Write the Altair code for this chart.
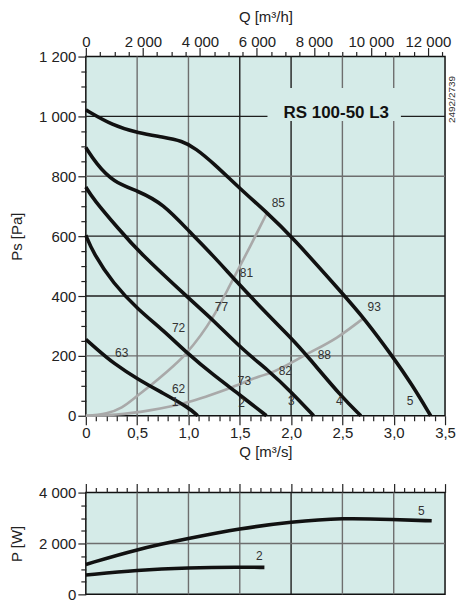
import altair as alt
import pandas as pd

# ---------------- data ----------------
# fan curves: Q [m3/s] -> Ps [Pa]
C1_Q = [0, 0.1, 0.265, 0.515, 0.75, 1.0, 1.09]
C1_P = [255, 225, 176, 120, 76, 28, 0]
C2_Q = [0, 0.07, 0.265, 0.515, 0.75, 1.0, 1.24, 1.5, 1.76]
C2_P = [603, 545, 442, 353, 287, 205, 137, 70, 0]
C3_Q = [0, 0.07, 0.33, 0.515, 1.01, 1.24, 1.53, 1.79, 2.0, 2.22]
C3_P = [764, 725, 620, 548, 390, 320, 220, 148, 80, 0]
C4_Q = [0, 0.1, 0.265, 0.515, 0.75, 1.01, 1.24, 1.45, 1.79, 2.0, 2.15, 2.5, 2.68]
C4_P = [896, 843, 781, 750, 709, 615, 535, 455, 331, 260, 203, 60, 0]
C5_Q = [0, 0.26, 0.515, 0.75, 0.94, 1.07, 1.24, 1.51, 1.757, 2.0, 2.52, 2.71, 2.99, 3.18, 3.36]
C5_P = [1022, 970, 944, 931, 918, 893, 845, 756, 681, 601, 401, 326, 198, 103, 0]

# system (efficiency) curves, grey
GA_Q = [0, 0.2, 0.35, 0.515, 0.75, 0.98, 1.24, 1.43, 1.6, 1.77]
GA_P = [0, 8, 28, 70, 135, 209, 331, 453, 565, 681]
GB_Q = [0, 0.3, 0.62, 0.82, 1.0, 1.4, 1.69, 1.79, 2.15, 2.45, 2.71]
GB_P = [0, 4, 18, 31, 46, 92, 131, 142, 205, 262, 327]

# labels on the pressure chart
LBL_TEXT = ["85", "81", "77", "72", "63", "62", "73", "82", "88", "93", "1", "2", "3", "4", "5"]
LBL_Q = [1.876, 1.565, 1.322, 0.904, 0.35, 0.904, 1.546, 1.944, 2.324, 2.81, 0.87, 1.517, 2.003, 2.47, 3.16]
LBL_P = [710, 477, 363, 293, 210, 88, 117, 150, 203, 363, 46, 43, 50, 50, 50]

# power curves: Q [m3/s] -> P [W]
P5_Q = [0, 0.5, 1.0, 1.5, 2.0, 2.5, 3.0, 3.37]
P5_W = [1176, 1777, 2196, 2588, 2850, 3007, 2941, 2890]
P2_Q = [0, 0.5, 1.0, 1.5, 1.74]
P2_W = [758, 954, 1046, 1072, 1059]
PL_TEXT = ["5", "2"]
PL_Q = [3.27, 1.69]
PL_W = [3282, 1518]

TITLE = "RS 100-50 L3"
TITLE_Q, TITLE_P = 2.44, 1010
TITLE_BOX = (1.77, 3.07, 985, 1095)
CODE = "2492/2739"

# grid
GRID_XQ = [0.5, 1.0, 1.5, 2.0, 2.5, 3.0]
GRID_XC = ["g", "g", "k", "k", "g", "g"]
GRID_YP = [200, 400, 600, 800, 1000]
GRID_YC = ["g", "k", "k", "g", "k"]
PGRID_XC = ["g", "g", "g", "k", "g", "g"]
PGRID_Y = [2000]

# ticks
Q_TICKS = [round(i * 0.1, 1) for i in range(36)]
QH_TICKS = [h / 3600 for h in range(0, 12501, 500)]
PS_TICKS = list(range(0, 1201, 50))
PW_TICKS = list(range(0, 4001, 500))

BG = "#d5ebe8"
FONT = "Liberation Sans"
GRID_SCALE = alt.Scale(domain=["g", "k"], range=["#6e6e6e", "#1e1e1e"])

XS = alt.Scale(domain=[0, 3.5], nice=False, zero=False)
YS = alt.Scale(domain=[0, 1200], nice=False, zero=False)
YW = alt.Scale(domain=[0, 4000], nice=False, zero=False)


def long(pairs):
    rows = []
    for name, qs, ps in pairs:
        for q, p in zip(qs, ps):
            rows.append({"curve": name, "q": q, "p": p})
    return pd.DataFrame(rows)


fan = long([("1", C1_Q, C1_P), ("2", C2_Q, C2_P), ("3", C3_Q, C3_P),
            ("4", C4_Q, C4_P), ("5", C5_Q, C5_P)])
sysc = long([("A", GA_Q, GA_P), ("B", GB_Q, GB_P)])
pw = long([("5", P5_Q, P5_W), ("2", P2_Q, P2_W)])

major_q = "round(datum.value*10) % 5 == 0"

ax_q_bottom = alt.Axis(
    orient="bottom", values=Q_TICKS, title="Q [m³/s]", grid=False, domain=False,
    labelFlush=False, labelOverlap=False,
    labelExpr="round(datum.value*10) % 5 == 0 ? (datum.value == 0 ? '0' : replace(format(datum.value, '.1f'), '.', ',')) : ''",
    tickSize={"condition": {"test": major_q, "value": 9}, "value": 5},
    labelPadding=1, titlePadding=4,
)
ax_q_top = alt.Axis(
    orient="top", values=QH_TICKS, title="Q [m³/h]", grid=False, domain=False,
    labelFlush=False, labelOverlap=False,
    labelExpr="round(datum.value*3600) % 2000 == 0 ? replace(format(round(datum.value*3600), ','), ',', ' ') : ''",
    tickSize={"condition": {"test": "round(datum.value*3600) % 2000 == 0", "value": 9}, "value": 5},
    labelPadding=-2, titlePadding=10,
)
ax_ps = alt.Axis(
    orient="left", values=PS_TICKS, title="Ps [Pa]", grid=False, domain=False,
    labelFlush=False, labelOverlap=False,
    labelExpr="datum.value % 200 == 0 ? replace(format(datum.value, ','), ',', ' ') : ''",
    tickSize={"condition": {"test": "datum.value % 200 == 0", "value": 8}, "value": 5},
    labelPadding=2, titlePadding=14,
)

gx = pd.DataFrame({"q": GRID_XQ, "c": GRID_XC})
gy = pd.DataFrame({"p": GRID_YP, "c": GRID_YC})

vgrid = alt.Chart(gx).mark_rule(strokeWidth=1.4).encode(
    x=alt.X("q:Q", scale=XS, axis=ax_q_top),
    color=alt.Color("c:N", scale=GRID_SCALE, legend=None),
)
hgrid = alt.Chart(gy).mark_rule(strokeWidth=1.4).encode(
    y=alt.Y("p:Q", scale=YS, axis=ax_ps),
    color=alt.Color("c:N", scale=GRID_SCALE, legend=None),
)
box = alt.Chart(pd.DataFrame({"x1": [TITLE_BOX[0]], "x2": [TITLE_BOX[1]],
                              "y1": [TITLE_BOX[2]], "y2": [TITLE_BOX[3]]})).mark_rect(color=BG).encode(
    x=alt.X("x1:Q", scale=XS, axis=None), x2="x2", y=alt.Y("y1:Q", scale=YS, axis=None), y2="y2")
grey = alt.Chart(sysc).mark_line(color="#a9a9a9", strokeWidth=2.6, interpolate="monotone").encode(
    x=alt.X("q:Q", scale=XS, axis=None), y=alt.Y("p:Q", scale=YS, axis=None), detail="curve:N")
black = alt.Chart(fan).mark_line(color="#111111", strokeWidth=3.6, interpolate="basis").encode(
    x=alt.X("q:Q", scale=XS, axis=ax_q_bottom), y=alt.Y("p:Q", scale=YS, axis=None), detail="curve:N")
labels = alt.Chart(pd.DataFrame({"t": LBL_TEXT, "q": LBL_Q, "p": LBL_P})).mark_text(
    font=FONT, fontSize=12, color="#333333").encode(
    x=alt.X("q:Q", scale=XS, axis=None), y=alt.Y("p:Q", scale=YS, axis=None), text="t:N")
title = alt.Chart(pd.DataFrame({"t": [TITLE], "q": [TITLE_Q], "p": [TITLE_P]})).mark_text(
    font=FONT, fontSize=17, fontWeight="bold", color="#111111").encode(
    x=alt.X("q:Q", scale=XS, axis=None), y=alt.Y("p:Q", scale=YS, axis=None), text="t:N")
code = alt.Chart(pd.DataFrame({"t": [CODE]})).mark_text(
    font=FONT, fontSize=10, color="#333333", angle=270).encode(
    x=alt.value(367), y=alt.value(43), text="t:N")

top = alt.layer(vgrid, hgrid, box, grey, black, labels, title, code).resolve_axis(
    x="independent", y="independent").properties(width=360, height=360)

# ---------------- power panel ----------------
pgx = pd.DataFrame({"q": GRID_XQ, "c": PGRID_XC})
pvgrid = alt.Chart(pgx).mark_rule(strokeWidth=1.4).encode(
    x=alt.X("q:Q", scale=XS, axis=alt.Axis(
        orient="top", values=Q_TICKS, labels=False, title=None, grid=False, domain=False,
        tickSize={"condition": {"test": major_q, "value": 9}, "value": 5})),
    color=alt.Color("c:N", scale=GRID_SCALE, legend=None),
)
phgrid = alt.Chart(pd.DataFrame({"p": PGRID_Y})).mark_rule(strokeWidth=1.4, color="#6e6e6e").encode(
    y=alt.Y("p:Q", scale=YW, axis=alt.Axis(
        orient="left", values=PW_TICKS, title="P [W]", grid=False, domain=False,
        labelFlush=False, labelOverlap=False,
        labelExpr="datum.value % 2000 == 0 ? replace(format(datum.value, ','), ',', ' ') : ''",
        tickSize={"condition": {"test": "datum.value % 2000 == 0", "value": 8}, "value": 5},
        labelPadding=2, titlePadding=14)))
pline = alt.Chart(pw).mark_line(color="#111111", strokeWidth=3.6, interpolate="basis").encode(
    x=alt.X("q:Q", scale=XS, axis=None), y=alt.Y("p:Q", scale=YW, axis=None), detail="curve:N")
plabels = alt.Chart(pd.DataFrame({"t": PL_TEXT, "q": PL_Q, "p": PL_W})).mark_text(
    font=FONT, fontSize=12, color="#333333").encode(
    x=alt.X("q:Q", scale=XS, axis=None), y=alt.Y("p:Q", scale=YW, axis=None), text="t:N")

bottom = alt.layer(pvgrid, phgrid, pline, plabels).resolve_axis(
    x="independent", y="independent").properties(width=360, height=102)

chart = alt.vconcat(top, bottom, spacing=21).properties(
    padding={"left": 0, "top": 0, "right": 0, "bottom": 0}
).configure_view(
    fill=BG, stroke="#111111", strokeWidth=1.5
).configure_axis(
    labelFont=FONT, labelFontSize=15, labelColor="#222222",
    titleFont=FONT, titleFontSize=15, titleFontWeight="normal", titleColor="#222222",
    tickColor="#222222", tickWidth=1.2,
).configure_text(font=FONT)

chart.save("out.html", embed_options={"renderer": "svg", "actions": False})
